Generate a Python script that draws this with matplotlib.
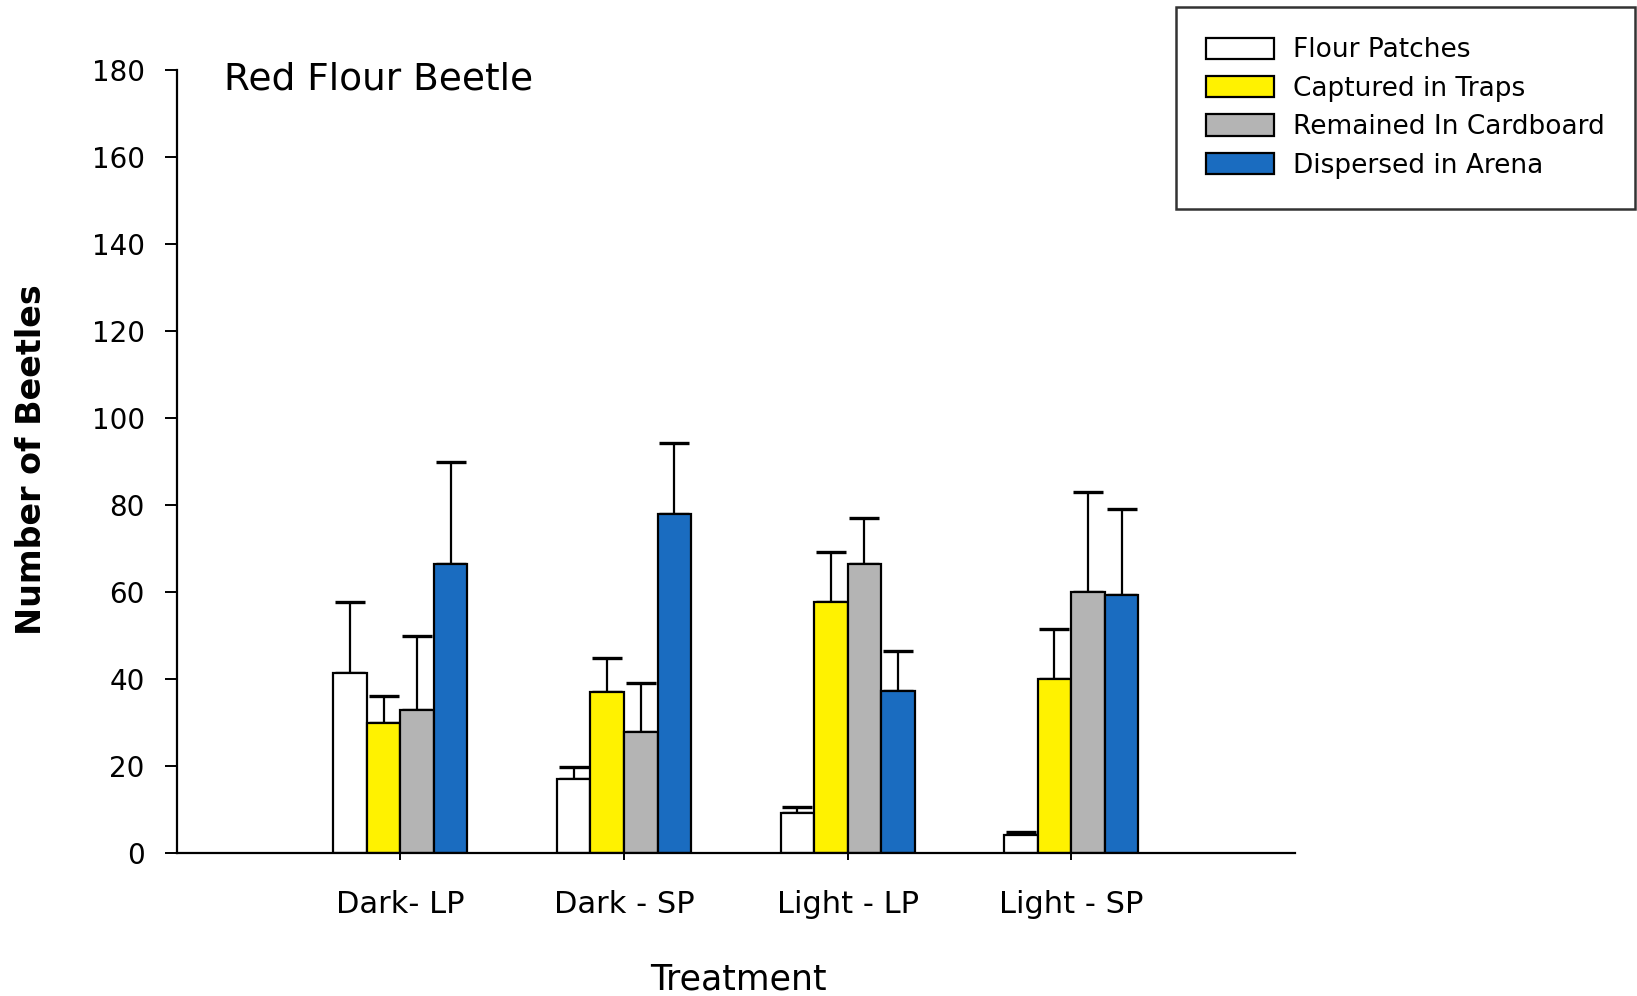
#!/usr/bin/env python3
"""Grouped bar chart of red flour beetle locations by treatment."""

import numpy as np
import matplotlib
matplotlib.use("Agg")
import matplotlib.pyplot as plt

# Data
treatments = ["Dark- LP", "Dark - SP", "Light - LP", "Light - SP"]
series_names = ["Flour Patches", "Captured in Traps", "Remained In Cardboard", "Dispersed in Arena"]
flour_patches = [41.4, 16.9, 9.1, 4.1]
captured_traps = [29.8, 37.1, 57.7, 39.9]
remained_cardboard = [32.9, 27.7, 66.4, 59.9]
dispersed_arena = [66.4, 77.9, 37.2, 59.4]
flour_patches_err = [16.3, 2.9, 1.5, 0.7]
captured_traps_err = [6.4, 7.8, 11.5, 11.5]
remained_cardboard_err = [17.0, 11.4, 10.7, 23.0]
dispersed_arena_err = [23.5, 16.3, 9.2, 19.7]
yticks = [0, 20, 40, 60, 80, 100, 120, 140, 160, 180]

colors = ["#ffffff", "#fff200", "#b4b4b4", "#1a6cc0"]


def plot_beetles():
    means = [flour_patches, captured_traps, remained_cardboard, dispersed_arena]
    errs = [flour_patches_err, captured_traps_err, remained_cardboard_err, dispersed_arena_err]

    fig = plt.figure(figsize=(16.37, 9.96), dpi=100)
    ax = fig.add_axes([0.108, 0.1436, 0.683, 0.7861])

    x = np.arange(len(treatments))
    width = 0.15
    offsets = [-1.5, -0.5, 0.5, 1.5]

    for name, vals, err, col, off in zip(series_names, means, errs, colors, offsets):
        xs = x + off * width
        ax.bar(xs, vals, width, color=col, edgecolor="black", linewidth=1.6,
               label=name, zorder=2)
        ax.errorbar(xs, vals, yerr=[np.zeros(len(err)), err], fmt="none",
                    ecolor="black", elinewidth=1.6, capsize=11, capthick=2.4, zorder=1)

    ax.set_xlim(-1, 4)
    ax.set_ylim(0, 180)
    ax.set_yticks(yticks)
    ax.set_xticks(x)
    ax.set_xticklabels(treatments)

    for side in ["top", "right"]:
        ax.spines[side].set_visible(False)
    ax.spines["left"].set_linewidth(1.6)
    ax.spines["bottom"].set_linewidth(1.6)

    ax.tick_params(axis="y", labelsize=20, length=9, width=1.4, pad=14, direction="out")
    ax.tick_params(axis="x", labelsize=22, length=5, width=1.4, pad=22, direction="out")

    ax.text(0.042, 0.9885, "Red Flour Beetle", transform=ax.transAxes,
            fontsize=27, va="center", ha="left")

    fig.text(0.019, 0.539, "Number of Beetles", rotation=90, ha="center", va="center",
             fontsize=24, fontweight="bold")
    fig.text(0.451, 0.017, "Treatment", ha="center", va="center", fontsize=25)

    leg = fig.legend(loc="upper right", bbox_to_anchor=(0.9988, 0.993),
                     fontsize=19, frameon=True, fancybox=False,
                     handlelength=2.6, handleheight=0.87, handletextpad=0.7,
                     labelspacing=0.47, borderpad=1.15, borderaxespad=0)
    leg.get_frame().set_edgecolor("black")
    leg.get_frame().set_linewidth(1.8)

    fig.savefig("out.png", dpi=100)
    plt.close(fig)


if __name__ == "__main__":
    plot_beetles()
